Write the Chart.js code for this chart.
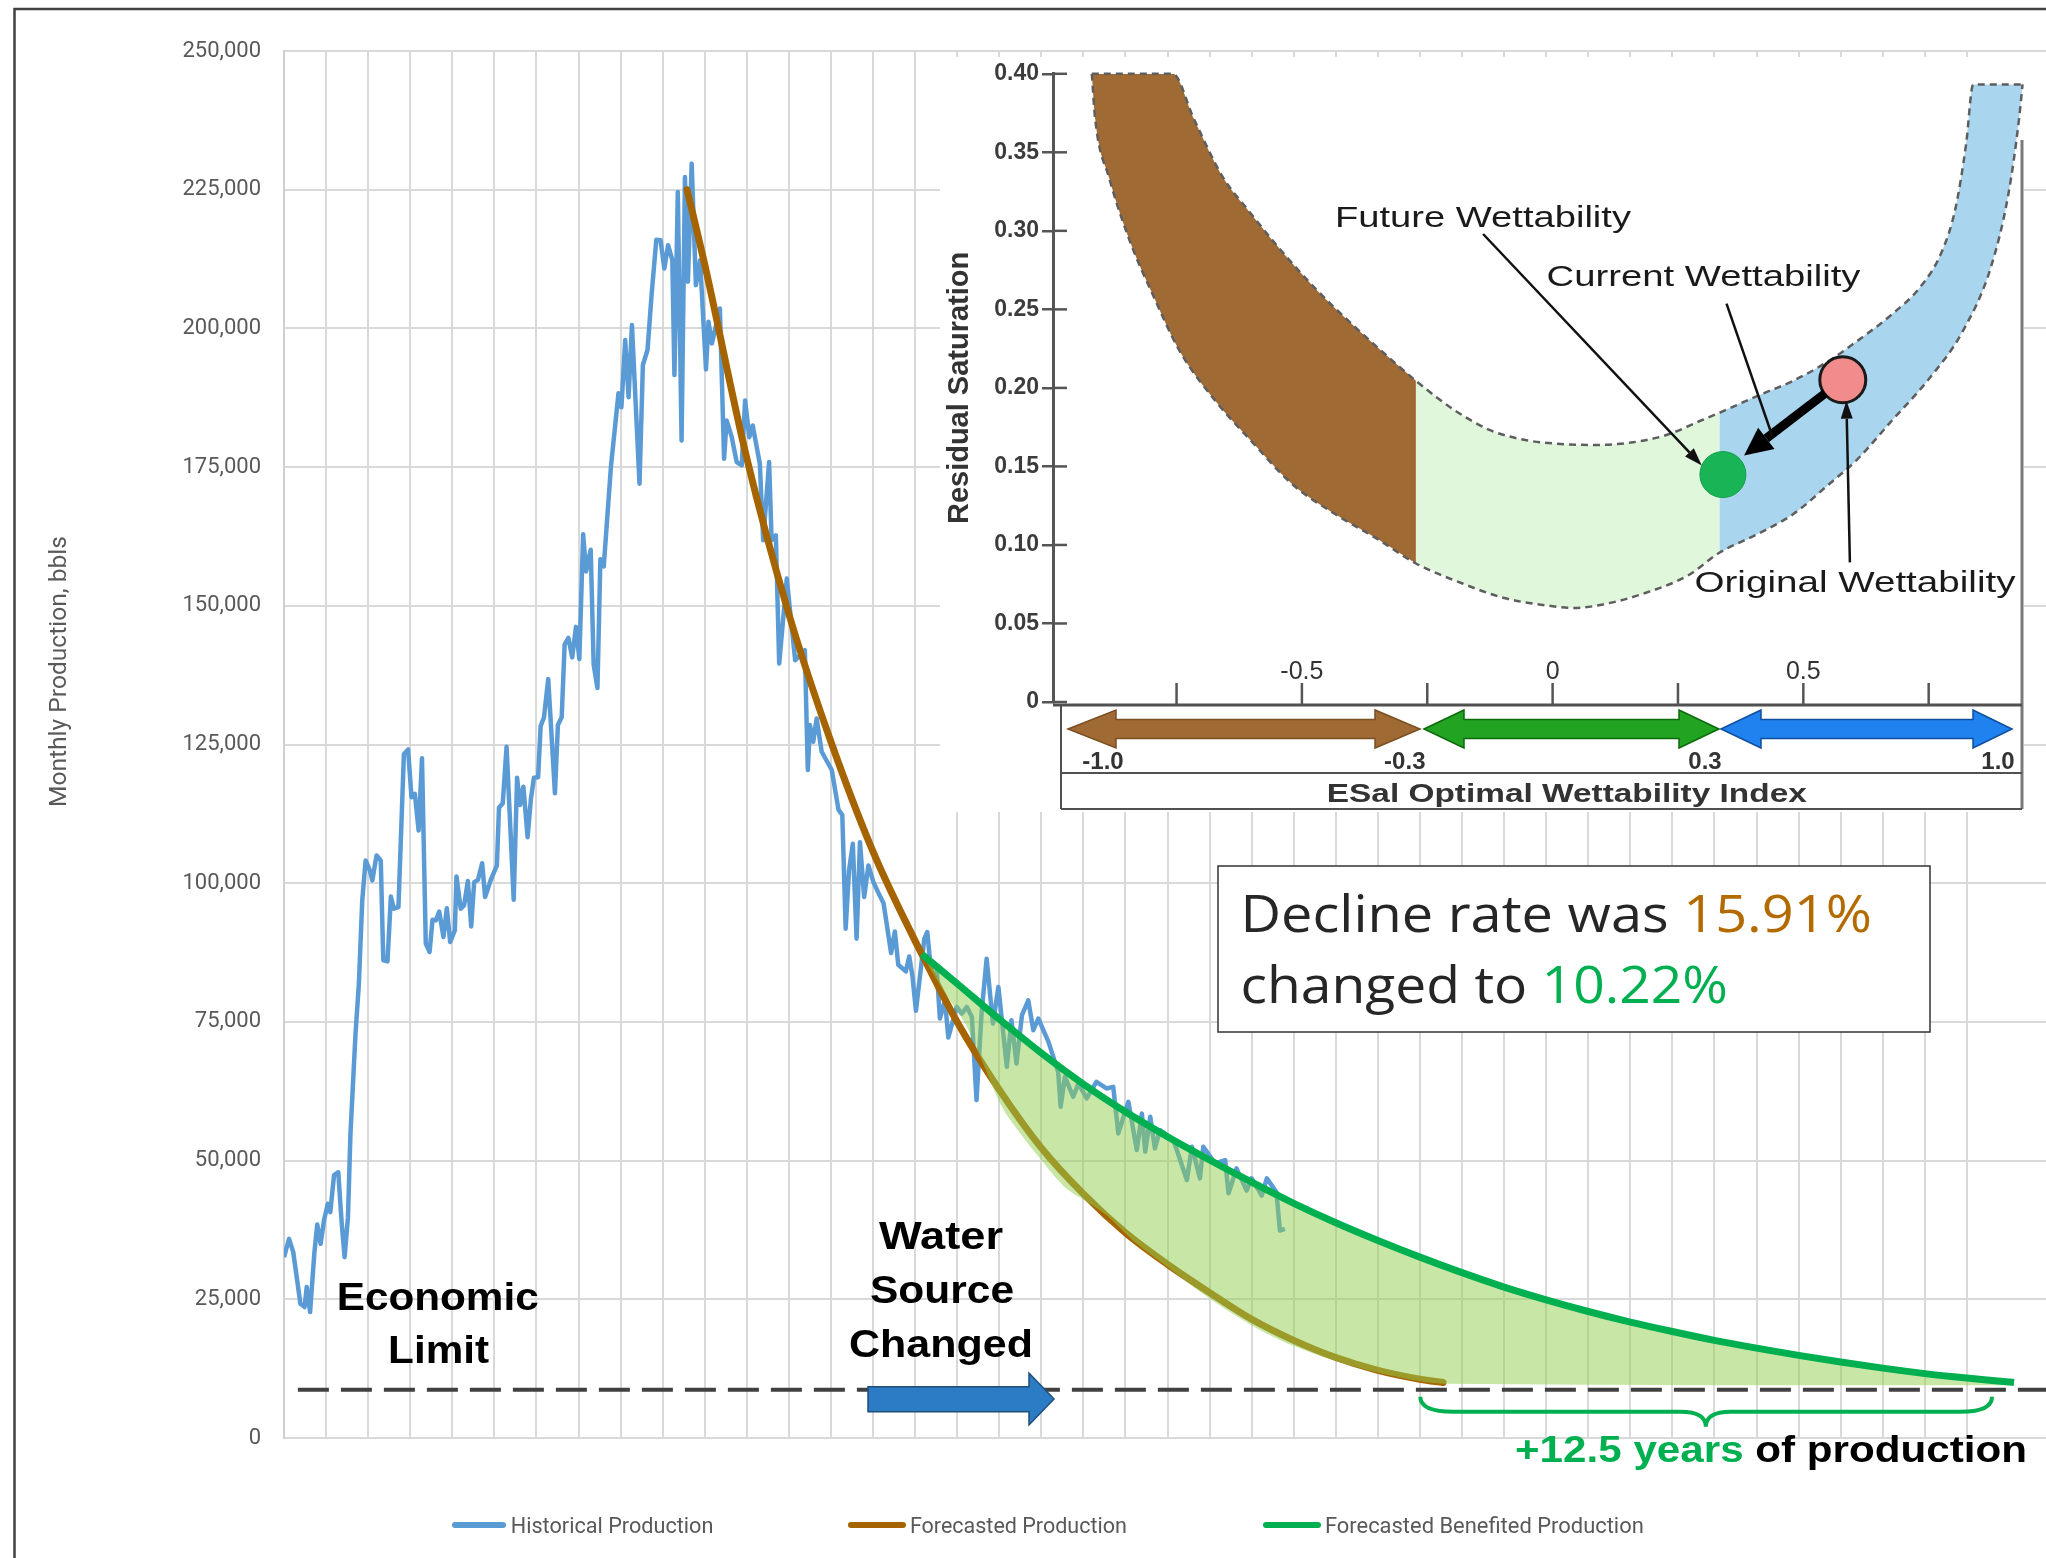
<!DOCTYPE html>
<html>
<head>
<meta charset="utf-8">
<title>Monthly Production</title>
<script src="https://cdn.jsdelivr.net/npm/chart.js@4.4.1/dist/chart.umd.min.js"></script>
<style>
  html, body { margin: 0; padding: 0; background: #fff; overflow: hidden; }
  #wrap { position: relative; width: 2046px; height: 1558px; }
  #main { position: absolute; left: 0; top: 0; }
  #inset { position: absolute; left: 940px; top: 57px; background: #fff; }
</style>
</head>
<body>
<div id="wrap">
  <canvas id="main" width="2046" height="1558"></canvas>
  <canvas id="inset" width="1084" height="755"></canvas>
</div>
<script>
// ---- main chart data (x = years from first month, y = bbls per month) ----
const histYears = [0.00,0.12,0.22,0.39,0.49,0.54,0.62,0.72,0.79,0.87,0.95,1.04,1.10,1.19,1.29,1.37,1.44,1.52,1.58,1.70,
  1.78,1.86,1.94,2.04,2.10,2.20,2.30,2.36,2.46,2.54,2.61,2.72,2.85,2.95,3.03,3.11,3.20,3.28,3.37,3.46,
  3.53,3.61,3.69,3.79,3.87,3.95,4.06,4.10,4.20,4.28,4.37,4.45,4.52,4.61,4.71,4.78,4.91,5.06,5.11,5.20,
  5.29,5.46,5.54,5.61,5.69,5.79,5.87,5.94,6.04,6.10,6.18,6.28,6.35,6.44,6.51,6.60,6.67,6.76,6.85,6.94,
  7.02,7.11,7.18,7.29,7.36,7.45,7.52,7.60,7.77,7.95,8.02,8.11,8.19,8.27,8.45,8.53,8.64,8.74,8.85,8.95,
  9.04,9.13,9.23,9.28,9.36,9.45,9.53,9.60,9.69,9.79,9.89,10.03,10.09,10.17,10.36,10.46,10.52,10.64,10.76,10.88,
  10.96,11.06,11.14,11.31,11.39,11.53,11.59,11.69,11.77,11.95,12.15,12.38,12.45,12.50,12.58,12.66,12.78,13.02,13.18,13.27,
  13.35,13.43,13.52,13.61,13.69,13.79,13.89,14.01,14.15,14.25,14.43,14.52,14.60,14.78,14.86,14.94,15.02,15.22,15.29,15.37,
  15.51,15.59,15.71,15.79,15.99,16.11,16.23,16.35,16.46,16.58,16.70,16.85,16.98,17.18,17.29,17.41,17.54,17.69,17.81,17.93,
  18.17,18.40,18.46,18.56,18.76,18.88,19.08,19.31,19.55,19.71,19.83,20.07,20.27,20.39,20.47,20.59,20.70,20.82,21.14,21.46,
  21.58,21.77,21.85,22.13,22.37,22.45,22.64,22.88,23.00,23.24,23.36,23.59,23.67,23.79];
const histBbls = [32600,35900,33500,24200,23600,27200,22700,33200,38500,35000,39200,42200,40700,47400,47900,38900,32600,39800,54900,72900,
  81900,96900,104100,102300,100500,105000,104100,86100,85900,97600,95400,95700,123300,124100,115500,116100,109500,122500,89100,87600,
  93400,93300,94900,90300,95500,89400,91500,101200,95400,96000,100400,92200,100200,100600,103600,97500,100500,103200,113600,114400,
  124600,97000,119000,114100,117400,108300,115300,119000,119100,128300,129900,136800,127800,116200,128500,129900,143000,144200,140700,146200,
  140400,162900,156200,160100,139400,135200,158400,157100,175000,188300,185800,197900,187600,200600,172000,193400,196100,206300,216000,215900,
  210800,215000,212300,191600,224600,179800,227300,208400,229700,207800,212300,192600,201200,197300,203600,176500,183400,180500,175900,175300,
  187000,180400,182500,175600,161800,175900,161800,162700,139600,154900,140200,142000,120400,128500,125500,129700,123700,120400,113200,112300,
  91800,102300,107100,90000,107400,97500,103200,100200,97900,96400,87400,91300,85300,84100,86800,83100,77000,90000,91200,84900,
  84900,75600,78900,72200,77700,76500,77700,75900,60900,76500,86400,74700,81300,66900,75300,67500,76200,78900,73500,75600,
  71400,66000,59700,65100,61500,63900,61200,64200,63000,63300,54900,60600,51900,58500,51600,57900,52200,55500,53700,46500,
  52500,46800,52500,49500,50100,44100,48600,44600,46800,43700,46800,44300,37400,37700];

const forecastYears = [9.58,10,11,12,13,14,15,15.16,16,17,18,19,20,21,22,23,24,25,26,27,27.55];
const forecastBbls  = [225000,211500,176600,148500,125500,105700,89600,87200,75000,62800,52300,44000,37000,31300,26200,21400,17600,14500,12200,10600,10000];

const benefitYears = [15.16,16,17,18,19,20,21,22,23,24,25,26,27,28,29,30,31,32,33,34,35,36,37,38,39,40,41,41.12];
const benefitBbls  = [87200,81900,75500,69400,63800,58800,54300,50100,46100,42300,38800,35600,32600,29800,27200,24900,22800,20900,19200,17600,16200,14900,13700,12600,11600,10800,10100,10000];

// lower edge of the shaded "benefit" area
const gainEdgeYears = [15.16,15.67,16.23,16.55,17.02,17.50,17.97,18.55,19.08,19.56,20.19,21.0,21.78,23.36,24.95,26.53,27.56,41.12];
const gainEdgeBbls  = [87200,80700,74100,68700,60300,54900,50400,45300,42600,40100,35500,30800,26300,18800,14000,10900,9800,9500];

const economicLimit = 8700;
const econYears = [0.33, 41.88];
const yTickValues = [0,25000,50000,75000,100000,125000,150000,175000,200000,225000,250000];
const legendLabels = ['Historical Production', 'Forecasted Production', 'Forecasted Benefited Production'];

// ---- inset data (ESal optimal wettability index vs residual saturation) ----
const wettUpper = [[-0.919,0.400],[-0.7575,0.400],[-0.7154,0.3712],[-0.6592,0.3350],[-0.6028,0.3114],[-0.5466,0.2894],
  [-0.4764,0.2643],[-0.4060,0.2423],[-0.3356,0.2219],[-0.2726,0.2045],[-0.1950,0.1857],[-0.1246,0.1731],[-0.0544,0.1668],
  [0.0160,0.1643],[0.0864,0.1637],[0.1567,0.1652],[0.2269,0.1700],[0.2973,0.1794],[0.3324,0.1841],[0.4098,0.1951],
  [0.4802,0.2046],[0.5506,0.2171],[0.6068,0.2297],[0.6772,0.2470],[0.7334,0.2643],[0.7755,0.2862],[0.8036,0.3146],
  [0.8247,0.3554],[0.8387,0.3932],[0.9372,0.3932]];
const wettLower = [[-0.919,0.400],[-0.9123,0.3712],[-0.8842,0.3335],[-0.8421,0.2926],[-0.7998,0.2611],[-0.7436,0.2234],
  [-0.6732,0.1920],[-0.6028,0.1668],[-0.5185,0.1385],[-0.4341,0.1197],[-0.3498,0.1039],[-0.2726,0.0882],[-0.1809,0.0756],
  [-0.0965,0.0662],[-0.0122,0.0615],[0.0441,0.0599],[0.1145,0.0631],[0.1848,0.0694],[0.2692,0.0804],[0.3324,0.0950],
  [0.4098,0.1071],[0.4802,0.1197],[0.5506,0.1385],[0.6068,0.1542],[0.6772,0.1794],[0.7476,0.2046],[0.8178,0.2360],
  [0.8740,0.2768],[0.9093,0.3240],[0.9302,0.3712],[0.9372,0.3932]];
const wettZoneEdges = [-1, -0.2726, 0.3324, 1];
const wettZoneColors = ['#a06a34', '#e0f7dc', '#a9d5ef'];
const futurePoint = [0.3396, 0.1448];
const originalPoint = [0.5787, 0.2052];
const insetYTicks = [0,0.05,0.10,0.15,0.20,0.25,0.30,0.35,0.40];
const insetXTicks = [-0.75,-0.5,-0.25,0,0.25,0.5,0.75];
const insetXLabels = ['-0.5','0','0.5'];
const zoneLabels = ['-1.0','-0.3','0.3','1.0'];

const BLUE = '#5b9bd5', BROWN = '#a66400', GREEN = '#00b050';
const pts = (xs, ys) => xs.map((x, i) => ({ x: x, y: ys[i] }));

// draws text runs squeezed/stretched to a measured width
function fitText(ctx, runs, x, y, width, font, align) {
  ctx.save();
  ctx.font = font;
  ctx.textAlign = 'left';
  ctx.textBaseline = 'alphabetic';
  let total = 0;
  runs.forEach(r => { total += ctx.measureText(r[0]).width; });
  const s = width / total;
  const x0 = align === 'center' ? x - width / 2 : x;
  ctx.translate(x0, y);
  ctx.scale(s, 1);
  let cx = 0;
  runs.forEach(r => {
    ctx.fillStyle = r[1];
    ctx.fillText(r[0], cx, 0);
    cx += ctx.measureText(r[0]).width;
  });
  ctx.restore();
}

function lineArrow(ctx, x1, y1, x2, y2, w, headL, headW, color, head) {
  const a = Math.atan2(y2 - y1, x2 - x1);
  const bx = x2 - headL * Math.cos(a), by = y2 - headL * Math.sin(a);
  ctx.strokeStyle = color;
  ctx.lineWidth = w;
  ctx.beginPath();
  ctx.moveTo(x1, y1);
  ctx.lineTo(head ? bx : x2, head ? by : y2);
  ctx.stroke();
  if (head) {
    ctx.beginPath();
    ctx.moveTo(x2, y2);
    ctx.lineTo(bx + headW / 2 * Math.sin(a), by - headW / 2 * Math.cos(a));
    ctx.lineTo(bx - headW / 2 * Math.sin(a), by + headW / 2 * Math.cos(a));
    ctx.closePath();
    ctx.fillStyle = color;
    ctx.fill();
  }
}

function dblArrow(ctx, x1, x2, cy, h1, h2, bodyH, headH, fill, stroke) {
  ctx.beginPath();
  ctx.moveTo(x1, cy);
  ctx.lineTo(x1 + h1, cy - headH);
  ctx.lineTo(x1 + h1, cy - bodyH);
  ctx.lineTo(x2 - h2, cy - bodyH);
  ctx.lineTo(x2 - h2, cy - headH);
  ctx.lineTo(x2, cy);
  ctx.lineTo(x2 - h2, cy + headH);
  ctx.lineTo(x2 - h2, cy + bodyH);
  ctx.lineTo(x1 + h1, cy + bodyH);
  ctx.lineTo(x1 + h1, cy + headH);
  ctx.closePath();
  ctx.fillStyle = fill;
  ctx.fill();
  ctx.strokeStyle = stroke;
  ctx.lineWidth = 1.5;
  ctx.stroke();
}

// annotations, legend and axis title of the main chart
const mainDecor = {
  id: 'mainDecor',
  afterDraw(chart) {
    const ctx = chart.ctx;
    ctx.save();

    // chart frame
    ctx.strokeStyle = '#404040';
    ctx.lineWidth = 2.5;
    ctx.strokeRect(14.5, 9, 2300, 1800);

    // y axis title
    ctx.save();
    ctx.translate(66, 671.5);
    ctx.rotate(-Math.PI / 2);
    fitText(ctx, [['Monthly Production, bbls', '#595959']], 0, 0, 271, '24.5px Roboto', 'center');
    ctx.restore();

    // Economic Limit / Water Source Changed
    const bold = 'bold 39px "Liberation Sans", Arial, sans-serif';
    fitText(ctx, [['Economic', '#000']], 437.7, 1310, 202, bold, 'center');
    fitText(ctx, [['Limit', '#000']], 438.6, 1362.7, 101, bold, 'center');
    fitText(ctx, [['Water', '#000']], 941, 1249.3, 124, bold, 'center');
    fitText(ctx, [['Source', '#000']], 942, 1303, 144, bold, 'center');
    fitText(ctx, [['Changed', '#000']], 941, 1356.7, 184, bold, 'center');

    // blue block arrow
    ctx.beginPath();
    ctx.moveTo(868, 1386.7);
    ctx.lineTo(1029, 1386.7);
    ctx.lineTo(1029, 1373);
    ctx.lineTo(1054, 1399);
    ctx.lineTo(1029, 1425);
    ctx.lineTo(1029, 1411.7);
    ctx.lineTo(868, 1411.7);
    ctx.closePath();
    ctx.fillStyle = '#2b7cc4';
    ctx.fill();
    ctx.strokeStyle = '#1f4e79';
    ctx.lineWidth = 1.5;
    ctx.stroke();

    // green brace
    ctx.beginPath();
    ctx.moveTo(1420.3, 1396.7);
    ctx.quadraticCurveTo(1420.3, 1411.7, 1453.6, 1411.7);
    ctx.lineTo(1680.4, 1411.7);
    ctx.quadraticCurveTo(1705.8, 1411.7, 1705.8, 1426.7);
    ctx.quadraticCurveTo(1705.8, 1411.7, 1731, 1411.7);
    ctx.lineTo(1960.6, 1411.7);
    ctx.quadraticCurveTo(1992, 1411.7, 1992, 1396.7);
    ctx.strokeStyle = GREEN;
    ctx.lineWidth = 4;
    ctx.stroke();

    fitText(ctx, [['+12.5 years', GREEN], [' of production', '#000']], 1515, 1461.7, 512,
      'bold 36px "Liberation Sans", Arial, sans-serif', 'left');

    // decline rate box
    ctx.fillStyle = '#fff';
    ctx.fillRect(1218, 866, 712, 166);
    ctx.strokeStyle = '#333';
    ctx.lineWidth = 1.5;
    ctx.strokeRect(1218, 866, 712, 166);
    fitText(ctx, [['Decline rate was ', '#262626'], ['15.91%', '#b36b00']], 1240.5, 931.7, 631.5, '52px "Open Sans"', 'left');
    fitText(ctx, [['changed to ', '#262626'], ['10.22%', GREEN]], 1240.5, 1003.3, 487.5, '52px "Open Sans"', 'left');

    // legend
    const legendItems = [
      { sx: 455, ex: 503, tx: 510.7, w: 202.7, color: BLUE },
      { sx: 851, ex: 903, tx: 909.9, w: 216.9, color: BROWN },
      { sx: 1266, ex: 1318, tx: 1324.9, w: 318.9, color: GREEN }
    ];
    legendItems.forEach((it, i) => {
      ctx.strokeStyle = it.color;
      ctx.lineWidth = 6;
      ctx.lineCap = 'round';
      ctx.beginPath();
      ctx.moveTo(it.sx, 1525);
      ctx.lineTo(it.ex, 1525);
      ctx.stroke();
      fitText(ctx, [[legendLabels[i], '#595959']], it.tx, 1532.7, it.w, '21.5px Roboto', 'left');
    });
    ctx.restore();
  }
};

const mainChart = new Chart(document.getElementById('main'), {
  type: 'line',
  data: {
    datasets: [
      { label: legendLabels[2], data: pts(benefitYears, benefitBbls), borderColor: GREEN, borderWidth: 7,
        fill: { target: 1 }, backgroundColor: 'rgba(146,208,80,0.5)', cubicInterpolationMode: 'monotone', order: 0 },
      { label: 'gain edge', data: pts(gainEdgeYears, gainEdgeBbls), borderColor: 'rgba(0,0,0,0)', borderWidth: 1,
        fill: false, cubicInterpolationMode: 'monotone', order: 1 },
      { label: legendLabels[1], data: pts(forecastYears, forecastBbls), borderColor: BROWN, borderWidth: 7,
        fill: false, cubicInterpolationMode: 'monotone', borderCapStyle: 'round', order: 2 },
      { label: legendLabels[0], data: pts(histYears, histBbls), borderColor: BLUE, borderWidth: 4.5,
        fill: false, tension: 0, borderJoinStyle: 'round', order: 3 },
      { label: 'Economic Limit', data: econYears.map(x => ({ x: x, y: economicLimit })), borderColor: '#404040',
        borderWidth: 4, borderDash: [31, 12], fill: false, order: 4 }
    ]
  },
  options: {
    responsive: false,
    animation: false,
    elements: { point: { radius: 0, hoverRadius: 0 } },
    layout: { autoPadding: false, padding: { top: 51, right: 0, bottom: 120, left: 0 } },
    scales: {
      x: {
        type: 'linear', min: 0, max: 41.88,
        afterBuildTicks: s => { s.ticks = s.ticks.filter(t => Number.isInteger(t.value)); },
        afterFit: s => { s.height = 0; },
        ticks: { display: false, stepSize: 1 },
        grid: { color: '#d9d9d9', lineWidth: 2, drawTicks: false },
        border: { color: '#d9d9d9', width: 2 }
      },
      y: {
        min: 0, max: 250000,
        afterBuildTicks: s => { s.ticks = yTickValues.map(v => ({ value: v })); },
        afterFit: s => { s.width = 284; },
        ticks: { color: '#595959', font: { family: 'Roboto', size: 22 }, padding: 23,
          callback: v => v.toLocaleString('en-US') },
        grid: { color: '#d9d9d9', lineWidth: 2, drawTicks: false },
        border: { color: '#cfcfcf', width: 2 }
      }
    },
    plugins: { legend: { display: false }, tooltip: { enabled: false } }
  },
  plugins: [mainDecor]
});

// ---- inset wettability diagram ----
const xy = p => ({ x: p[0], y: p[1] });
const insetSets = [];
wettZoneColors.forEach((c, i) => {
  const a = wettZoneEdges[i], b = wettZoneEdges[i + 1];
  const lo = wettLower.filter(p => p[0] >= a && p[0] <= b);
  const up = wettUpper.filter(p => p[0] >= a && p[0] <= b);
  insetSets.push({ data: lo.map(xy), borderColor: 'rgba(0,0,0,0)', borderWidth: 1, fill: false,
    cubicInterpolationMode: 'monotone', order: 10, clip: 10 });
  insetSets.push({ data: up.map(xy), borderColor: 'rgba(0,0,0,0)', borderWidth: 1, backgroundColor: c,
    fill: { target: insetSets.length - 1 }, cubicInterpolationMode: 'monotone', order: 9, clip: 10 });
});
[wettUpper, wettLower].forEach(arr => {
  insetSets.push({ data: arr.map(xy), borderColor: '#5e5e5e', borderWidth: 2.5, borderDash: [7, 5],
    fill: false, cubicInterpolationMode: 'monotone', order: 5, clip: 10 });
});
insetSets.push({ data: [xy(futurePoint)], showLine: false, pointRadius: 23, pointBackgroundColor: '#19b456',
  pointBorderColor: '#12a04a', pointBorderWidth: 1, order: 1, clip: 30 });
insetSets.push({ data: [xy(originalPoint)], showLine: false, pointRadius: 23, pointBackgroundColor: '#f28b8b',
  pointBorderColor: '#1a1a1a', pointBorderWidth: 3, order: 1, clip: 30 });

const insetDecor = {
  id: 'insetDecor',
  afterDraw(chart) {
    const ctx = chart.ctx, xs = chart.scales.x, ys = chart.scales.y, area = chart.chartArea;
    const ox = 940, oy = 57;
    ctx.save();
    ctx.translate(-ox, -oy);   // work in page pixels
    const L = area.left + ox;

    // inner half of y tick marks
    ctx.strokeStyle = '#555';
    ctx.lineWidth = 2.5;
    insetYTicks.forEach(v => {
      const y = ys.getPixelForValue(v) + oy;
      ctx.beginPath(); ctx.moveTo(L, y); ctx.lineTo(L + 14, y); ctx.stroke();
    });

    // right frame and bottom bar
    ctx.strokeStyle = '#7a7a7a'; ctx.lineWidth = 3;
    ctx.beginPath(); ctx.moveTo(2022, 140); ctx.lineTo(2022, 809); ctx.stroke();
    ctx.strokeStyle = '#505050';
    ctx.beginPath(); ctx.moveTo(1053, 705); ctx.lineTo(2022, 705); ctx.stroke();
    ctx.lineWidth = 2;
    ctx.beginPath(); ctx.moveTo(1061, 773); ctx.lineTo(2022, 773); ctx.stroke();
    ctx.beginPath(); ctx.moveTo(1061, 809); ctx.lineTo(2022, 809); ctx.stroke();
    ctx.beginPath(); ctx.moveTo(1061, 705); ctx.lineTo(1061, 809); ctx.stroke();

    // x ticks pointing up and their labels
    ctx.strokeStyle = '#555'; ctx.lineWidth = 2.5;
    insetXTicks.forEach(v => {
      const x = xs.getPixelForValue(v) + ox;
      ctx.beginPath(); ctx.moveTo(x, 683); ctx.lineTo(x, 705); ctx.stroke();
    });
    ctx.font = '25px "Liberation Sans", Arial, sans-serif';
    ctx.fillStyle = '#333';
    ctx.textAlign = 'center';
    insetXLabels.forEach(t => {
      ctx.fillText(t, xs.getPixelForValue(parseFloat(t)) + ox, 679);
    });

    // zone arrows
    dblArrow(ctx, 1068, 1420, 729, 48, 45, 9.5, 19, '#a06a34', '#7a4f22');
    dblArrow(ctx, 1424, 1719, 729, 40, 40, 9.5, 19, '#22a322', '#0b6b0b');
    dblArrow(ctx, 1721, 2012, 729, 40, 39, 9.5, 19, '#1f82ee', '#0f4fa0');
    ctx.font = 'bold 24px "Liberation Sans", Arial, sans-serif';
    ctx.fillStyle = '#333';
    [1103, 1404.8, 1705, 1998].forEach((x, i) => ctx.fillText(zoneLabels[i], x, 769));
    fitText(ctx, [['ESal Optimal Wettability Index', '#333']], 1566.8, 802, 480,
      'bold 26px "Liberation Sans", Arial, sans-serif', 'center');

    // arrows to points
    lineArrow(ctx, 1825.3, 393.2, 1744.1, 455.4, 9, 28, 27, '#000', true);
    lineArrow(ctx, 1483.1, 234, 1701.8, 465.4, 2.5, 18, 12, '#111', true);
    lineArrow(ctx, 1726.5, 303.7, 1772.3, 436, 2.5, 0, 0, '#111', false);
    lineArrow(ctx, 1849.9, 562.4, 1846.4, 400.7, 2.5, 18, 12, '#111', true);

    const lf = '29px "Liberation Sans", Arial, sans-serif';
    fitText(ctx, [['Future Wettability', '#1a1a1a']], 1483, 226.6, 296, lf, 'center');
    fitText(ctx, [['Current Wettability', '#1a1a1a']], 1703.5, 286.3, 314, lf, 'center');
    fitText(ctx, [['Original Wettability', '#1a1a1a']], 1855, 592.2, 321, lf, 'center');
    ctx.restore();
  }
};

const insetChart = new Chart(document.getElementById('inset'), {
  type: 'line',
  data: { datasets: insetSets },
  options: {
    responsive: false,
    animation: false,
    elements: { point: { radius: 0, hoverRadius: 0 } },
    layout: { autoPadding: false, padding: { top: 12, right: 0, bottom: 110, left: 0 } },
    scales: {
      x: { type: 'linear', min: -0.9964, max: 0.9401, display: false },
      y: {
        min: 0, max: 0.4,
        afterBuildTicks: s => { s.ticks = insetYTicks.map(v => ({ value: v })); },
        afterFit: s => { s.width = 113; },
        ticks: { color: '#3c3c3c', padding: 3, font: { family: 'Liberation Sans', size: 23, weight: 'bold' },
          callback: v => v === 0 ? '0' : v.toFixed(2) },
        grid: { drawOnChartArea: false, drawTicks: true, tickLength: 11, color: '#555', lineWidth: 2.5 },
        border: { display: true, color: '#555', width: 3 },
        title: { display: true, text: 'Residual Saturation', color: '#333',
          font: { family: 'Liberation Sans', size: 29, weight: 'bold' }, padding: { top: 3, bottom: 0 } }
      }
    },
    plugins: { legend: { display: false }, tooltip: { enabled: false } }
  },
  plugins: [insetDecor]
});
</script>
</body>
</html>
